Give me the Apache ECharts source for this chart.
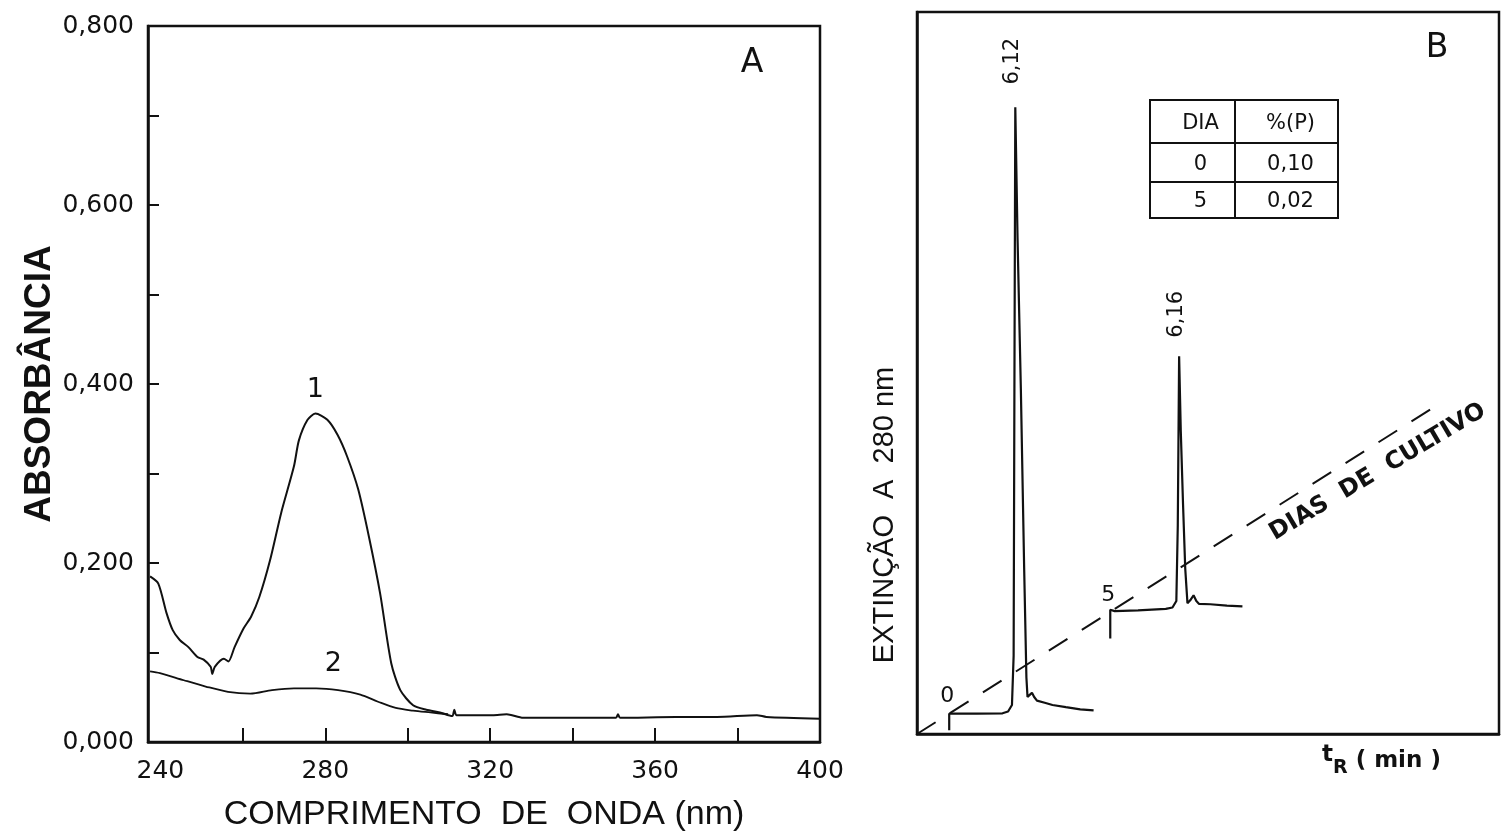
<!DOCTYPE html>
<html>
<head>
<meta charset="utf-8">
<script src="https://cdn.jsdelivr.net/npm/echarts@6/dist/echarts.min.js"></script>
<style>
html,body{margin:0;padding:0;background:#ffffff;}
#chart{width:1504px;height:840px;}
</style>
</head>
<body>
<div id="chart"></div>
<script>
// ---------------- Panel A : absorption spectra ----------------
const wavelengthTickValues = [260, 280, 300, 320, 340, 360, 380];
const wavelengthLabelValues = [240, 280, 320, 360, 400];
const absorbanceLabelValues = [0, 0.2, 0.4, 0.6, 0.8];

// curve 1 : [wavelength (nm), absorbance]
const spectrum1 = [
  [237.5, 0.185], [239.5, 0.177], [241.5, 0.144], [243, 0.125], [244.7, 0.114],
  [246.8, 0.106], [249, 0.095], [250.5, 0.092], [252.2, 0.084], [252.6, 0.076],
  [253.2, 0.084], [255.4, 0.093], [256.5, 0.090], [258, 0.106], [260.2, 0.127],
  [262, 0.140], [264, 0.162], [266.6, 0.203], [269.3, 0.256], [272.4, 0.308],
  [273.6, 0.337], [275.7, 0.360], [277.6, 0.367], [280.5, 0.360], [283, 0.343],
  [285.3, 0.319], [288, 0.282], [290.6, 0.229], [293.3, 0.166], [296, 0.088],
  [298.2, 0.058], [301.3, 0.041], [304.5, 0.036], [307.8, 0.033], [310.8, 0.029],
  [311.3, 0.036], [311.8, 0.030], [316, 0.030], [320.6, 0.030], [324, 0.031],
  [328, 0.027], [340, 0.027], [350.5, 0.027], [351, 0.031], [351.5, 0.027],
  [365, 0.028], [375, 0.028], [384.7, 0.030], [387, 0.028], [400, 0.026]
];
// curve 2 : [wavelength (nm), absorbance]
const spectrum2 = [
  [237.5, 0.079], [239.9, 0.077], [245.7, 0.069], [251, 0.062], [256.4, 0.056],
  [261.8, 0.054], [267.1, 0.058], [272.4, 0.060], [277.8, 0.060], [283.1, 0.058],
  [288.5, 0.053], [292.8, 0.045], [297.1, 0.038], [301.3, 0.035], [305.5, 0.033],
  [309.8, 0.031]
];
const curveLabels = [
  { text: '1', at: [277.6, 0.367] },
  { text: '2', at: [280.5, 0.060] }
];

// ---------------- Panel B : chromatograms ----------------
const cultureDays = [0, 5];
const dayStep = [2.90, 2.82];           // oblique "DIAS DE CULTIVO" axis step per day
const dayAxisRange = [-1, 15.2];
const peakLabels = ['6,12', '6,16'];
// [retention time (min), extinction]
const chromDay0 = [
  [0, -2.3], [0, 0], [2.5, 0], [4.8, 0.05], [5.3, 0.3], [5.65, 1.2], [5.8, 8],
  [5.87, 45], [5.95, 84], [6.15, 66], [6.45, 45], [6.75, 20], [6.95, 5], [7.05, 2.3],
  [7.25, 2.6], [7.45, 2.9], [7.65, 2.3], [7.9, 1.8], [8.6, 1.5], [9.3, 1.2],
  [10.5, 0.9], [11.8, 0.6], [13.0, 0.45]
];
const chromDay5 = [
  [0, -3.7], [0, 0.3], [0.4, 0.1], [2.5, 0.2], [5.0, 0.4], [5.6, 0.6], [5.95, 1.5],
  [6.08, 12], [6.2, 35.4], [6.35, 25], [6.55, 15], [6.75, 6], [6.95, 1.2],
  [7.2, 1.6], [7.5, 2.3], [7.75, 1.5], [8.0, 1.1], [9.0, 1.05], [10.5, 0.85], [11.9, 0.75]
];
const tableHeader = ['DIA', '%(P)'];
const tableDay = ['0', '5'];
const tablePercent = ['0,10', '0,02'];

function project(day, pt) {
  return [(day + 1) * dayStep[0] + pt[0], (day + 1) * dayStep[1] + pt[1]];
}
const chromSeries = [chromDay0, chromDay5].map((prof, i) => prof.map(p => project(cultureDays[i], p)));
const dayLine = dayAxisRange.map(d => project(d, [0, 0]));

const black = '#111111';
const chart = echarts.init(document.getElementById('chart'), null, { renderer: 'canvas' });

const option = {
  backgroundColor: '#ffffff',
  animation: false,
  grid: [
    { left: 148, top: 26, width: 672, height: 716, show: true, borderColor: black, borderWidth: 2.5, backgroundColor: 'transparent' },
    { left: 917, top: 12, width: 582, height: 722, show: true, borderColor: black, borderWidth: 2.5, backgroundColor: 'transparent' }
  ],
  xAxis: [
    {
      gridIndex: 0, type: 'value', min: 237, max: 400,
      name: 'COMPRIMENTO  DE  ONDA (nm)', nameLocation: 'middle', nameGap: 56,
      nameTextStyle: { fontFamily: 'Liberation Sans', fontSize: 34, color: black },
      axisLine: { show: true, lineStyle: { color: black, width: 2.5 } },
      axisTick: { show: true, inside: true, length: 14, customValues: wavelengthTickValues, lineStyle: { color: black, width: 2 } },
      axisLabel: { show: true, customValues: wavelengthLabelValues, margin: 17, fontFamily: 'DejaVu Sans', fontSize: 25, color: black },
      splitLine: { show: false }
    },
    {
      gridIndex: 1, type: 'value', min: 0, max: 52.4,
      axisLine: { show: true, lineStyle: { color: black, width: 2.5 } },
      axisTick: { show: false }, axisLabel: { show: false }, splitLine: { show: false }
    }
  ],
  yAxis: [
    {
      gridIndex: 0, type: 'value', min: 0, max: 0.8, interval: 0.1,
      name: 'ABSORBÂNCIA', nameLocation: 'middle', nameGap: 90, nameRotate: 90,
      nameTextStyle: { fontFamily: 'Liberation Sans', fontWeight: 'bold', fontSize: 37, color: black },
      axisLine: { show: true, lineStyle: { color: black, width: 2.5 } },
      axisTick: { show: true, inside: true, length: 11, lineStyle: { color: black, width: 2 } },
      axisLabel: {
        show: true, margin: 14, fontFamily: 'DejaVu Sans', fontSize: 25, color: black,
        formatter: v => absorbanceLabelValues.some(a => Math.abs(a - v) < 1e-6) ? v.toFixed(3).replace('.', ',') : ''
      },
      splitLine: { show: false }
    },
    {
      gridIndex: 1, type: 'value', min: 0, max: 100,
      axisLine: { show: true, lineStyle: { color: black, width: 2.5 } },
      axisTick: { show: false }, axisLabel: { show: false }, splitLine: { show: false }
    }
  ],
  series: [
    { type: 'line', xAxisIndex: 0, yAxisIndex: 0, data: spectrum1, showSymbol: false, smooth: 0.25, lineStyle: { color: black, width: 2 } },
    { type: 'line', xAxisIndex: 0, yAxisIndex: 0, data: spectrum2, showSymbol: false, smooth: 0.3, lineStyle: { color: black, width: 1.8 } },
    { type: 'line', xAxisIndex: 1, yAxisIndex: 1, data: chromSeries[0], showSymbol: false, smooth: false, lineStyle: { color: black, width: 2.2 } },
    { type: 'line', xAxisIndex: 1, yAxisIndex: 1, data: chromSeries[1], showSymbol: false, smooth: false, lineStyle: { color: black, width: 2.2 } },
    { type: 'line', xAxisIndex: 1, yAxisIndex: 1, data: dayLine, showSymbol: false, lineStyle: { color: black, width: 2, type: [22, 17] } }
  ]
};
chart.setOption(option);

// ---------- annotations (positioned through the axes) ----------
const g = [];
function txt(x, y, text, font, rot, extra) {
  return Object.assign({
    type: 'text', x: x, y: y, rotation: rot || 0, z: 10,
    style: { text: text, font: font, fill: black, align: 'center', verticalAlign: 'middle', textAlign: 'center', textVerticalAlign: 'middle' }
  }, extra || {});
}
// curve labels
curveLabels.forEach((c, i) => {
  const p = chart.convertToPixel({ gridIndex: 0 }, c.at);
  g.push(txt(p[0] + (i === 0 ? 0 : 6), p[1] - (i === 0 ? 24 : 24), c.text, '27px "DejaVu Sans"'));
});
// panel letters
g.push(txt(752, 63, 'A', '33px "DejaVu Sans"'));
g.push(txt(1437, 48, 'B', '33px "DejaVu Sans"'));

// peak labels and day labels
[chromDay0, chromDay5].forEach((prof, i) => {
  let top = prof[0];
  prof.forEach(p => { if (p[1] > top[1]) top = p; });
  const pk = chart.convertToPixel({ gridIndex: 1 }, project(cultureDays[i], top));
  g.push(txt(pk[0] - 3, pk[1] - (i === 0 ? 46 : 42), peakLabels[i], '21px "DejaVu Sans"', Math.PI / 2));
  const st = chart.convertToPixel({ gridIndex: 1 }, project(cultureDays[i], [0, 0]));
  g.push(txt(st[0] - 2, st[1] - 17, String(cultureDays[i]), '22px "DejaVu Sans"'));
});

// DIAS DE CULTIVO along the oblique axis
const ang = Math.atan2(dayStep[1] * 7.22, dayStep[0] * 11.1);
const onLine = chart.convertToPixel({ gridIndex: 1 }, project(12.9, [0, 0]));
g.push(txt(onLine[0] + 13, onLine[1] + 21, 'DIAS  DE  CULTIVO', 'bold 24px "DejaVu Sans"', ang * 0.95));

// axis titles of panel B
g.push(txt(885, 515, 'EXTINÇÃO  A  280 nm', '29px "Liberation Sans"', Math.PI / 2));
g.push({
  type: 'text', x: 1322, y: 744, z: 10,
  style: {
    text: '{t|t}{s|R}{m| ( min )}', fill: black,
    rich: {
      t: { font: 'bold 23px "DejaVu Sans"', verticalAlign: 'top', padding: [0, 0, 0, 0] },
      s: { font: 'bold 19px "DejaVu Sans"', padding: [15, 0, 0, 0] },
      m: { font: 'bold 23px "DejaVu Sans"' }
    }
  }
});

// table
const tb = { x: 1150, y: 100, w: 188, h: 118, col: 85, rows: [43, 39, 36] };
g.push({ type: 'rect', z: 10, shape: { x: tb.x, y: tb.y, width: tb.w, height: tb.h }, style: { fill: 'none', stroke: black, lineWidth: 2 } });
g.push({ type: 'line', z: 10, shape: { x1: tb.x + tb.col, y1: tb.y, x2: tb.x + tb.col, y2: tb.y + tb.h }, style: { stroke: black, lineWidth: 2 } });
let yy = tb.y;
const rowsText = [tableHeader, [tableDay[0], tablePercent[0]], [tableDay[1], tablePercent[1]]];
rowsText.forEach((r, i) => {
  const h = tb.rows[i];
  if (i > 0) g.push({ type: 'line', z: 10, shape: { x1: tb.x, y1: yy, x2: tb.x + tb.w, y2: yy }, style: { stroke: black, lineWidth: 2 } });
  g.push(txt(tb.x + tb.col / 2 + 8, yy + h / 2 + 2, r[0], '21px "DejaVu Sans"'));
  g.push(txt(tb.x + tb.col + (tb.w - tb.col) / 2 + 4, yy + h / 2 + 2, r[1], '21px "DejaVu Sans"'));
  yy += h;
});

chart.setOption({ graphic: g });
</script>
</body>
</html>
